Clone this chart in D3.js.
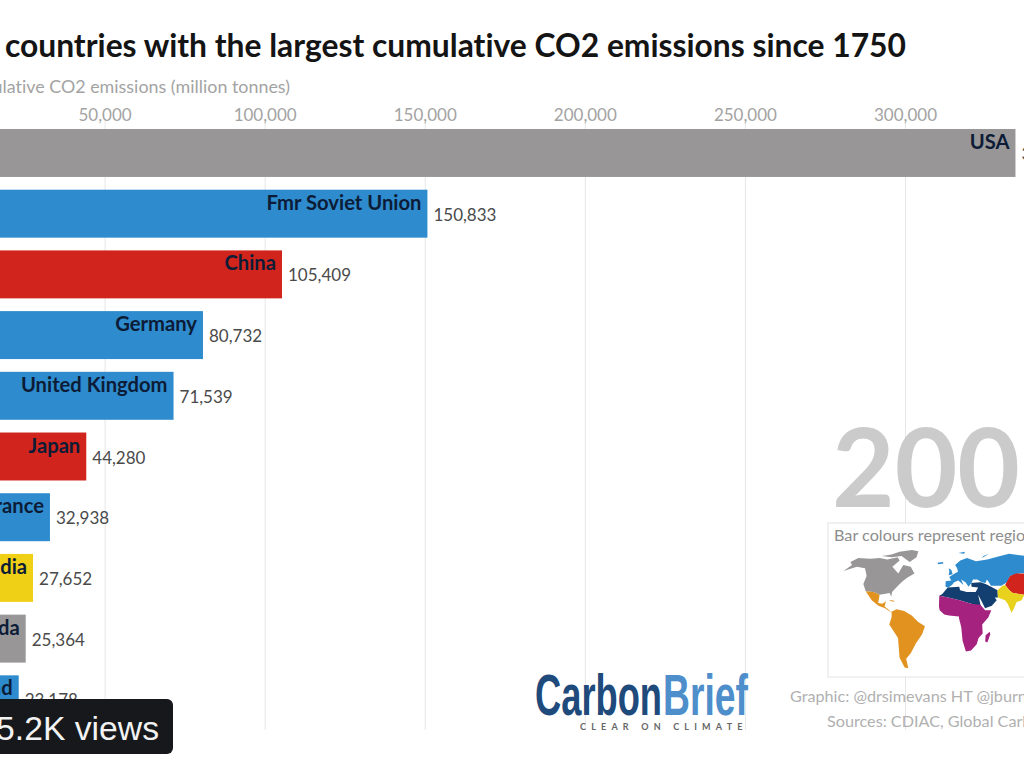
<!DOCTYPE html>
<html>
<head>
<meta charset="utf-8">
<script src="https://cdn.jsdelivr.net/npm/d3@7"></script>
<style>
  html, body { margin: 0; padding: 0; background: #fff; overflow: hidden; }
  svg { display: block; font-family: Lato, "Open Sans", sans-serif; font-variant-ligatures: none; }
</style>
</head>
<body>
<div id="chart"></div>
<script>
const countries = ["USA", "Fmr Soviet Union", "China", "Germany", "United Kingdom", "Japan", "France", "India", "Canada", "Poland"];
const emissions = [334500, 150833, 105409, 80732, 71539, 44280, 32938, 27652, 25364, 23178];
const regions = ["na", "eu", "cn", "eu", "eu", "cn", "eu", "in", "na", "eu"];
const tickValues = [50000, 100000, 150000, 200000, 250000, 300000];

const regionColours = { na: "#989697", eu: "#2e8bcd", cn: "#d0241c", in: "#f0cf17" };

// rough outlines for the little inset map, [lon, lat]
const northAmerica = [[-168,66],[-162,71],[-140,70],[-125,71],[-110,69],[-95,72],[-88,68],[-94,60],[-85,55],[-80,52],[-78,62],[-65,60],[-56,52],[-65,47],[-70,43],[-75,38],[-81,31],[-81,26],[-84,30],[-97,28],[-106,31],[-117,32],[-124,40],[-125,49],[-135,58],[-150,60],[-165,55],[-160,62]];
const arctic = [[-125,74],[-110,76],[-100,80],[-80,83],[-65,81],[-62,72],[-70,66],[-80,70],[-90,74],[-105,72]];
const latinAmerica = [[-117,32],[-106,31],[-97,28],[-97,19],[-91,18],[-87,21],[-88,15],[-83,12],[-79,9],[-72,12],[-62,10],[-52,5],[-44,-2],[-35,-7],[-39,-16],[-48,-26],[-57,-37],[-65,-43],[-66,-54],[-71,-53],[-74,-42],[-71,-20],[-81,-5],[-78,3],[-78,8],[-87,13],[-96,16],[-106,22]];
const cuba = [[-84,22],[-78,22],[-75,20],[-79,21]];
const europeRussia = [[-9,37],[-9,43],[-1,44],[-4,48],[4,52],[9,54],[8,58],[5,62],[14,68],[26,71],[40,67],[60,69],[80,73],[105,77],[140,73],[180,69],[178,62],[160,60],[140,54],[130,43],[120,53],[100,52],[85,49],[78,42],[68,38],[54,38],[52,42],[50,45],[47,41],[42,42],[36,45],[30,45],[28,42],[23,37],[19,42],[13,45],[16,39],[9,44],[3,42],[0,39],[-5,36]];
const britain = [[-5,50],[1,51],[-1,56],[-5,58],[-4,54]];
const iceland = [[-24,65],[-15,66],[-14,64],[-22,63]];
const svalbard = [[12,78],[25,80],[22,77]];
const novaya = [[52,71],[68,77],[56,74]];
const northAfrica = [[-17,27],[-13,29],[-6,36],[10,37],[11,33],[20,31],[32,31],[36,36],[27,37],[27,41],[40,42],[47,40],[54,37],[62,33],[61,25],[57,25],[59,22],[52,16],[43,13],[39,21],[35,28],[37,18],[38,14],[25,18],[10,22],[-5,25]];
const africa = [[-17,27],[-5,25],[10,22],[25,18],[37,17],[43,11],[51,11],[47,3],[39,-5],[40,-15],[35,-20],[33,-27],[26,-34],[19,-35],[14,-23],[12,-8],[9,2],[9,4],[-4,5],[-10,6],[-16,11],[-17,15]];
const madagascar = [[49,-13],[50,-16],[47,-25],[44,-24],[44,-17]];
const china = [[74,39],[85,49],[95,52],[115,52],[125,53],[135,47],[122,38],[122,30],[110,20],[100,22],[97,28],[82,30],[78,33]];
const india = [[61,25],[62,33],[70,38],[74,39],[78,33],[82,30],[97,28],[92,22],[85,20],[80,12],[77,8],[73,18],[70,22]];
const mapShapes = [
  [northAmerica, "na"], [arctic, "na"], [latinAmerica, "la"], [cuba, "la"], [europeRussia, "eu"], [britain, "eu"],
  [iceland, "eu"], [svalbard, "eu"], [novaya, "eu"], [northAfrica, "me"], [africa, "af"], [madagascar, "af"],
  [china, "cn"], [india, "in"]
];
const mapColours = { na: "#989697", la: "#e2921f", eu: "#2e8bcd", me: "#123f70", af: "#a5237f", cn: "#d0241c", in: "#e9d21e" };

const svg = d3.select("#chart").append("svg").attr("width", 1024).attr("height", 768);

const x = d3.scaleLinear().domain([0, 300000]).range([-55.5, 905]);
const y = d3.scaleBand().domain(countries).range([129, 723.3]).paddingInner(0.21).paddingOuter(0);

// axis and gridlines
const axis = svg.append("g")
  .attr("transform", "translate(0,120)")
  .call(d3.axisTop(x).tickValues(tickValues).tickSize(-610).tickPadding(-1).tickFormat(d3.format(",")));
axis.select(".domain").remove();
axis.selectAll("line").attr("stroke", "#e6e6e6");
axis.selectAll("text").attr("fill", "#a3a3a3").style("font-size", "17px").style("font-family", "Lato, sans-serif");

svg.append("text").attr("x", 290).attr("y", 93).attr("text-anchor", "end")
  .attr("fill", "#a3a3a3").style("font-size", "17.9px")
  .text("Cumulative CO2 emissions (million tonnes)");

svg.append("text").attr("x", 906).attr("y", 57).attr("text-anchor", "end")
  .attr("fill", "#141414").style("font-size", "31.8px").style("font-weight", 700)
  .text("The 10 countries with the largest cumulative CO2 emissions since 1750");

// bars
const rows = svg.selectAll(".row").data(countries).enter().append("g").attr("class", "row");

rows.append("rect")
  .attr("x", x(0))
  .attr("y", (d) => y(d))
  .attr("width", (d, i) => x(emissions[i]) - x(0))
  .attr("height", y.bandwidth())
  .attr("fill", (d, i) => regionColours[regions[i]]);

rows.append("text")
  .attr("x", (d, i) => x(emissions[i]) - 6)
  .attr("y", (d) => y(d) + 20)
  .attr("text-anchor", "end")
  .attr("fill", "#0c1c36")
  .style("font-size", "20.2px")
  .style("font-weight", 700)
  .text((d) => d);

rows.append("text")
  .attr("x", (d, i) => x(emissions[i]) + 6)
  .attr("y", (d) => y(d) + 31)
  .attr("fill", "#4a4a4a")
  .style("font-size", "17px")
  .text((d, i) => d3.format(",")(emissions[i]));

// year
svg.append("text").attr("x", 832).attr("y", 507)
  .attr("textLength", 188).attr("lengthAdjust", "spacingAndGlyphs")
  .attr("fill", "#cbcbcb").style("font-size", "110px").style("font-weight", 700)
  .text("200");

// inset map
svg.append("rect").attr("x", 828).attr("y", 523).attr("width", 240).attr("height", 154)
  .attr("fill", "#fff").attr("stroke", "#ececec").attr("stroke-width", 1.5);

svg.append("text").attr("x", 834).attr("y", 541)
  .attr("fill", "#8d8d8d").style("font-size", "16.2px")
  .text("Bar colours represent regions");

const projection = d3.geoNaturalEarth1().scale(51).translate([952, 620]);
const mapLine = d3.line().curve(d3.curveLinearClosed);

svg.selectAll(".land").data(mapShapes).enter().append("path")
  .attr("class", "land")
  .attr("d", (d) => mapLine(d[0].map(projection)))
  .attr("fill", (d) => mapColours[d[1]]);

// credits
svg.append("text").attr("x", 790).attr("y", 702)
  .attr("fill", "#b0b0b0").style("font-size", "16.2px")
  .text("Graphic: @drsimevans HT @jburnmurdoch");
svg.append("text").attr("x", 827).attr("y", 727)
  .attr("fill", "#b0b0b0").style("font-size", "16.2px")
  .text("Sources: CDIAC, Global Carbon Project");

// logo, squeezed because no condensed face is installed
const logoFont = "'Liberation Sans', sans-serif";
svg.append("text").attr("x", 535).attr("y", 715)
  .attr("textLength", 127).attr("lengthAdjust", "spacingAndGlyphs")
  .attr("fill", "#1f4a7c")
  .style("font-family", logoFont).style("font-size", "57px").style("font-weight", 700)
  .text("Carbon");
svg.append("text").attr("x", 663).attr("y", 715)
  .attr("textLength", 85).attr("lengthAdjust", "spacingAndGlyphs")
  .attr("fill", "#4d8ecb")
  .style("font-family", logoFont).style("font-size", "57px").style("font-weight", 700)
  .text("Brief");
svg.append("text").attr("x", 580).attr("y", 730)
  .attr("fill", "#666").style("font-size", "9px").style("letter-spacing", "5.2px").style("font-weight", 700)
  .text("CLEAR ON CLIMATE");

// views badge
svg.append("rect").attr("x", -20).attr("y", 699).attr("width", 193).attr("height", 55).attr("rx", 6)
  .attr("fill", "#16181c");
svg.append("text").attr("x", 159).attr("y", 740).attr("text-anchor", "end")
  .attr("fill", "#f2f2f2")
  .style("font-family", logoFont).style("font-size", "33.7px")
  .text("5.2K views");
</script>
</body>
</html>
